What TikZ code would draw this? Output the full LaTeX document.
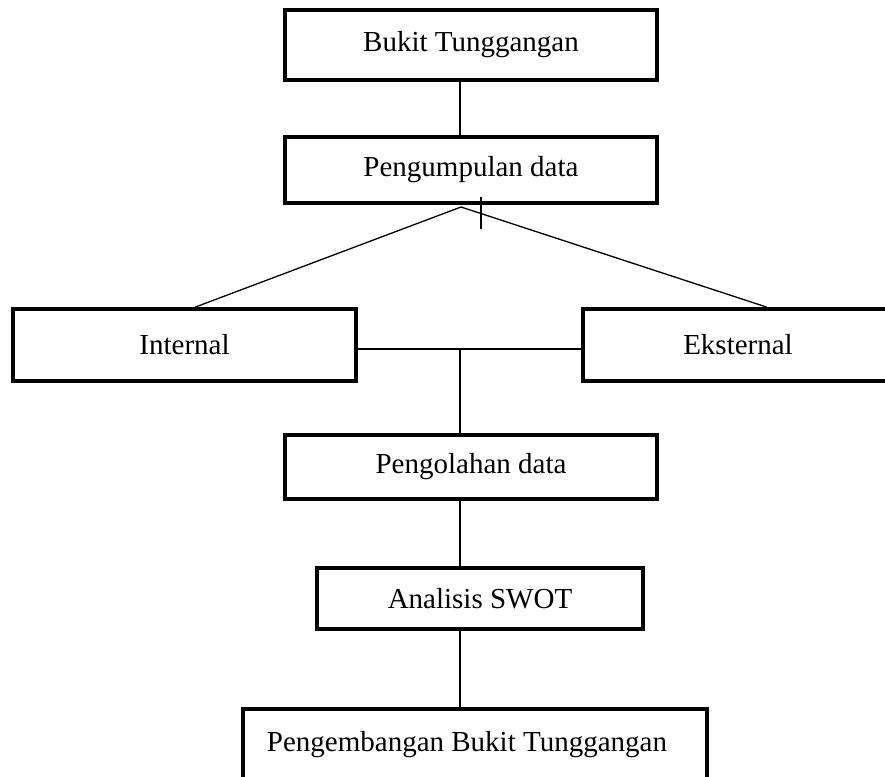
\documentclass[tikz,border=0pt]{standalone}
\usepackage{fontspec}
\setmainfont{Liberation Serif}
\begin{document}
\begin{tikzpicture}[x=1pt,y=-1pt,
  box/.style={draw=black,line width=3.6pt,rectangle,inner sep=0pt,
    font=\fontsize{29}{34}\selectfont},
  conn/.style={line width=1.3pt}]
\useasboundingbox[fill=white] (0,0) rectangle (885,776);
% boxes (outer edges in pixel coordinates)
\node[box,minimum width=372pt,minimum height=70pt] (top) at (471,45) {Bukit Tunggangan};
\node[box,minimum width=372pt,minimum height=66pt] (kumpul) at (471,170) {Pengumpulan data};
\node[box,minimum width=343pt,minimum height=72pt] (int) at (184.5,345) {Internal};
\node[box,minimum width=310pt,minimum height=72pt] (eks) at (738,345) {Eksternal};
\node[box,minimum width=372pt,minimum height=64pt] (olah) at (471,467) {Pengolahan data};
\node[box,minimum width=326pt,minimum height=61pt] (swot) at (480,598.5) {Analisis SWOT};
\node[box,minimum width=464pt,minimum height=72pt,text depth=0pt] (kembang) at (475,745) {\hspace*{-16pt}\raisebox{8pt}{Pengembangan Bukit Tunggangan}};
% helper coordinates
\coordinate (mx) at (460,0);
\coordinate (apex) at (461,207);
\coordinate (hj) at (460,349);
\coordinate (tickA) at (481,197);
\coordinate (tickB) at (481,229);
% connectors
\draw[conn] (top.south -| mx) -- (kumpul.north -| mx);
\draw[conn] (apex) -- (int.north -| 195,0);
\draw[conn] (apex) -- (eks.north -| 767,0);
\draw[conn] (tickA) -- (tickB);
\draw[conn] (int.east |- hj) -- (eks.west |- hj);
\draw[conn] (hj) -- (olah.north -| hj);
\draw[conn] (olah.south -| mx) -- (swot.north -| mx);
\draw[conn] (swot.south -| mx) -- (kembang.north -| mx);
\end{tikzpicture}
\end{document}
